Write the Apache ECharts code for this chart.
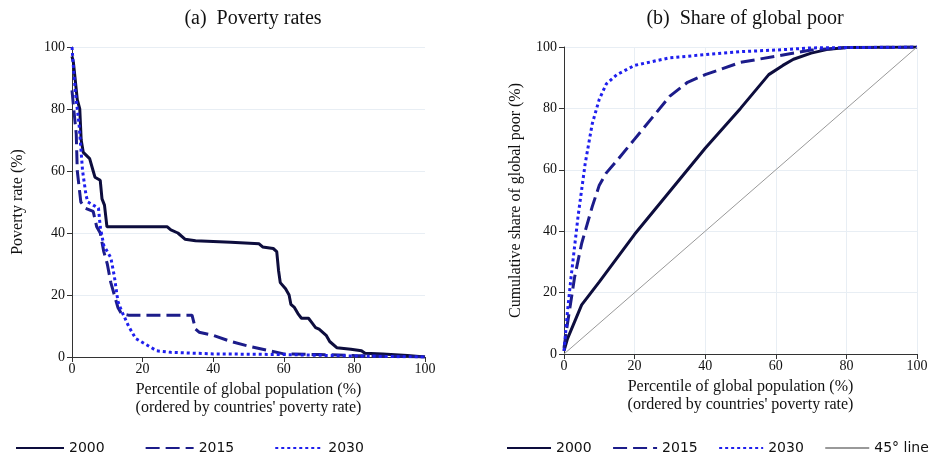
<!DOCTYPE html>
<html><head><meta charset="utf-8">
<script src="https://cdn.jsdelivr.net/npm/echarts@6/dist/echarts.min.js"></script>
<style>html,body{margin:0;background:#fff}#c{width:938px;height:458px}</style>
</head><body><div id="c"></div>
<script>
// (a) poverty rates, [percentile, rate]
var rate2000 = [[0,97],[0.4,95],[1.5,83],[2.2,80],[2.6,70],[3.2,66],[5,64],[6,60],[6.5,58],[8,57],[8.5,51],[9.2,49],[9.9,42],[15,42],[27,42],[28,41],[30,40],[32,38],[35,37.5],[45,37],[53,36.5],[54,35.5],[57,35],[58,34],[58.5,28],[59,24],[60.5,22],[61.5,20],[62,17],[63,16],[64,14],[65,12.5],[67,12.5],[68,11],[69,9.5],[70,9],[72,7],[73,5],[75,3],[79,2.5],[82,2],[83,1.2],[88,1],[95,0.5],[100,0]];
var rate2015 = [[0,86],[0.5,80],[1.2,72],[1.5,60],[2.5,50],[3.8,48],[6,47],[7,42],[8,40],[9,34],[10,30],[11,24],[12,20],[13,16],[14,14],[16,13.5],[34,13.5],[35,9],[36,8],[40,7],[45,5],[50,3.5],[56,2],[60,1],[70,0.8],[80,0.5],[100,0]];
var rate2030 = [[0,100],[0.5,92],[1,85],[2,75],[3,60],[4,52],[4.5,50],[6,49],[7.5,48],[8,42],[9,36],[11,32],[12,26],[13,18],[14,15],[16,10],[18,6],[21,4],[24,2],[28,1.5],[40,1],[60,0.8],[80,0.3],[100,0]];
// (b) cumulative share of global poor
var share2000 = [[0,1],[1,5],[5,16],[10,23.5],[20,39],[30,53],[40,67],[50,80],[58,91],[62,94],[65,96],[70,98],[75,99.3],[80,99.8],[100,100]];
var share2015 = [[0,2],[1,10],[3,25],[5,36],[8,48],[10,55],[12,59],[15,63],[20,70],[25,77],[30,84],[35,88.5],[40,91],[50,95],[60,97],[70,99],[80,99.8],[100,100]];
var share2030 = [[0,1],[1,14],[2,25],[4,45],[6,62],[8,75],[10,83],[12,88],[15,91],[20,94],[30,96.5],[40,97.5],[50,98.5],[60,99],[70,99.7],[100,100]];
var line45 = [[0,0],[100,100]];

var font = 'Liberation Serif';
var xName = 'Percentile of global population (%)\n(ordered by countries\' poverty rate)';

function xAxis(idx, grid) {
	return {
		type : 'value', gridIndex : grid, min : 0, max : 100, interval : 20,
		name : xName, nameLocation : 'middle', nameGap : 22,
		nameTextStyle : { fontFamily : font, fontSize : 16, color : '#111', lineHeight : 18 },
		axisLine : { lineStyle : { color : '#333' } },
		axisTick : { length : 5, lineStyle : { color : '#333' } },
		axisLabel : { fontFamily : font, fontSize : 14, color : '#111', margin : 5 },
		splitLine : { show : grid == 1, lineStyle : { color : '#e8eef4' } }
	};
}
function yAxis(grid, name) {
	return {
		type : 'value', gridIndex : grid, min : 0, max : 100, interval : 20,
		name : name, nameLocation : 'middle', nameGap : grid == 0 ? 46 : 40,
		nameTextStyle : { fontFamily : font, fontSize : 16, color : '#111' },
		axisLine : { show : true, lineStyle : { color : '#333' } },
		axisTick : { show : true, length : 5, lineStyle : { color : '#333' } },
		axisLabel : { fontFamily : font, fontSize : 14, color : '#111', margin : 7 },
		splitLine : { lineStyle : { color : '#e8eef4' } }
	};
}
function ser(name, data, xi, color, type, width) {
	return {
		name : name, type : 'line', xAxisIndex : xi, yAxisIndex : xi, data : data,
		symbol : 'none', animation : false,
		lineStyle : { color : color, type : type, width : width },
		itemStyle : { color : color }
	};
}
var c2000 = '#0d0d3d', c2015 = '#1c1c8a', c2030 = '#1f1fee';
var legText = { fontFamily : 'DejaVu Sans', fontSize : 14, color : '#111' };
var option = {
	title : [
		{ text : '(a)  Poverty rates', left : 248, top : 4, textAlign : 'center',
			textStyle : { fontFamily : font, fontSize : 20, fontWeight : 'normal', color : '#111' } },
		{ text : '(b)  Share of global poor', left : 740, top : 4, textAlign : 'center',
			textStyle : { fontFamily : font, fontSize : 20, fontWeight : 'normal', color : '#111' } }
	],
	grid : [
		{ left : 72, right : 513, top : 47, bottom : 101 },
		{ left : 564, right : 21, top : 47, bottom : 104 }
	],
	xAxis : [ xAxis(0, 0), xAxis(1, 1) ],
	yAxis : [ yAxis(0, 'Poverty rate (%)'), yAxis(1, 'Cumulative share of global poor (%)') ],
	legend : [
		{ data : ['2000', '2015', '2030'], left : 10, top : 436, itemWidth : 48, itemGap : 40,
			itemStyle : { opacity : 0 }, textStyle : legText },
		{ data : ['2000 ', '2015 ', '2030 ', '45° line'], left : 506, top : 441, itemWidth : 44, itemGap : 16,
			width : 432, padding : 0, itemStyle : { opacity : 0 }, textStyle : legText }
	],
	series : [
		ser('2000', rate2000, 0, c2000, 'solid', 3),
		ser('2015', rate2015, 0, c2015, [14, 6], 3),
		ser('2030', rate2030, 0, c2030, [3, 3], 3),
		ser('2000 ', share2000, 1, c2000, 'solid', 3),
		ser('2015 ', share2015, 1, c2015, [14, 6], 3),
		ser('2030 ', share2030, 1, c2030, [3, 3], 3),
		ser('45° line', line45, 1, '#999', 'solid', 1)
	]
};
var myChart = echarts.init(document.getElementById('c'));
myChart.setOption(option);
</script></body></html>
